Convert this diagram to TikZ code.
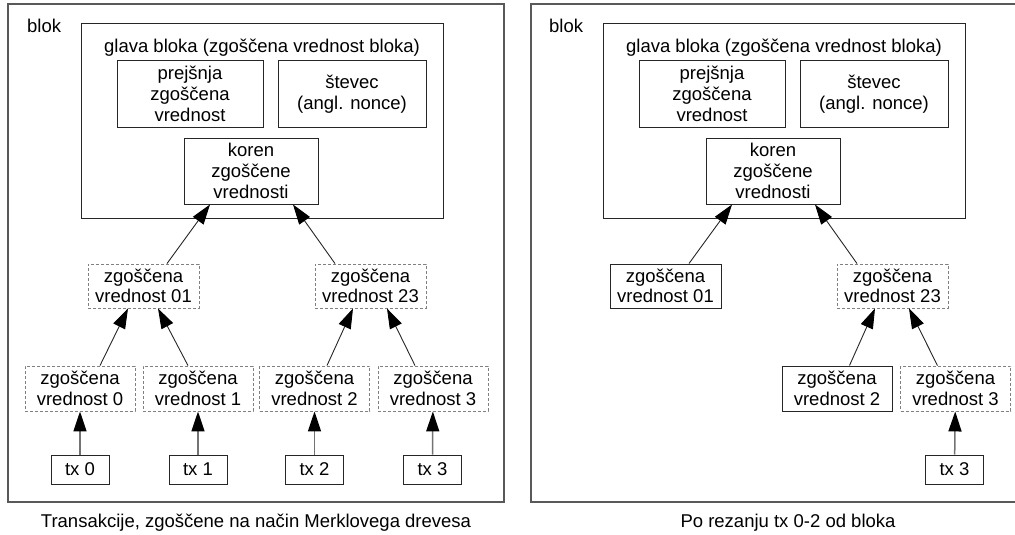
\documentclass[tikz,border=0pt]{standalone}
\usepackage{fontspec}
\setmainfont{Liberation Sans}
\usetikzlibrary{arrows.meta}
\begin{document}
\begin{tikzpicture}[x=1pt,y=-1pt,
  every node/.style={font=\fontsize{18.5}{20.7}\selectfont, inner sep=0pt, align=center},
  outerbox/.style={draw=black!65, line width=1.4pt},
  headbox/.style={draw=black!85, line width=1pt},
  solidbox/.style={draw=black!85, line width=1pt},
  dashbox/.style={draw=black!50, line width=0.9pt, dash pattern=on 3pt off 2pt},
  tip/.style={-{Triangle[length=20pt,width=13pt,color=black]}},
  arr/.style={draw=black!85, line width=0.9pt, tip},
  txarr/.style={draw=black!55, line width=1.5pt, tip}
]
\useasboundingbox (0,0) rectangle (1015,535);
\clip (0,0) rectangle (1015,535);
% ---------------- left panel ----------------
\node[outerbox, minimum width=496pt, minimum height=498pt] (lout) at (256,253) {};
\node[anchor=west] (lblok) at (27,26) {blok};
\node[headbox, minimum width=362pt, minimum height=194pt] (lhead) at (262,121) {};
\node (lglava) at (262,48) {glava bloka (zgoščena vrednost bloka)};
\node[solidbox, minimum width=146pt, minimum height=66pt] (lprej) at (190,94) {prejšnja\\zgoščena\\vrednost};
\node[solidbox, minimum width=148pt, minimum height=66pt] (lstev) at (352,94) {števec\\(angl. nonce)};
\node[solidbox, minimum width=134pt, minimum height=66pt] (lkoren) at (251,171) {koren\\zgoščene\\vrednosti};
\node[dashbox, minimum width=111pt, minimum height=44pt] (lh01) at (143.5,286) {zgoščena\\vrednost 01};
\node[dashbox, minimum width=111pt, minimum height=44pt] (lh23) at (370.5,286) {zgoščena\\vrednost 23};
\node[dashbox, minimum width=110pt, minimum height=45pt] (lh0) at (80,388.5) {zgoščena\\vrednost 0};
\node[dashbox, minimum width=110pt, minimum height=45pt] (lh1) at (198,388.5) {zgoščena\\vrednost 1};
\node[dashbox, minimum width=110pt, minimum height=45pt] (lh2) at (314.5,388.5) {zgoščena\\vrednost 2};
\node[dashbox, minimum width=110pt, minimum height=45pt] (lh3) at (433,388.5) {zgoščena\\vrednost 3};
\node[solidbox, minimum width=58pt, minimum height=29pt] (ltx0) at (80,469.5) {tx 0};
\node[solidbox, minimum width=58pt, minimum height=29pt] (ltx1) at (198,469.5) {tx 1};
\node[solidbox, minimum width=58pt, minimum height=29pt] (ltx2) at (314.5,469.5) {tx 2};
\node[solidbox, minimum width=58pt, minimum height=29pt] (ltx3) at (432.5,469.5) {tx 3};
\node (lcap) at (256,523) {Transakcije, zgoščene na način Merklovega drevesa};
\draw[arr] ([xshift=23.5pt]lh01.north) -- ([xshift=-41pt]lkoren.south);
\draw[arr] ([xshift=-35.5pt]lh23.north) -- ([xshift=42pt]lkoren.south);
\draw[arr] ([xshift=20pt]lh0.north) -- ([xshift=-15.5pt]lh01.south);
\draw[arr] ([xshift=-10pt]lh1.north) -- ([xshift=14.5pt]lh01.south);
\draw[arr] ([xshift=12.5pt]lh2.north) -- ([xshift=-17.5pt]lh23.south);
\draw[arr] ([xshift=-18pt]lh3.north) -- ([xshift=16.5pt]lh23.south);
\draw[txarr] (ltx0) -- (lh0);
\draw[txarr] (ltx1) -- (lh1);
\draw[txarr] (ltx2) -- (lh2);
\draw[txarr] (ltx3) -- (lh3);
% ---------------- right panel ----------------
\node[outerbox, minimum width=514pt, minimum height=498pt] (rout) at (788,253) {};
\node[anchor=west] (rblok) at (549,26) {blok};
\node[headbox, minimum width=362pt, minimum height=194pt] (rhead) at (784,121) {};
\node (rglava) at (784,48) {glava bloka (zgoščena vrednost bloka)};
\node[solidbox, minimum width=146pt, minimum height=66pt] (rprej) at (712,94) {prejšnja\\zgoščena\\vrednost};
\node[solidbox, minimum width=148pt, minimum height=66pt] (rstev) at (874,94) {števec\\(angl. nonce)};
\node[solidbox, minimum width=134pt, minimum height=66pt] (rkoren) at (773,171) {koren\\zgoščene\\vrednosti};
\node[solidbox, minimum width=111pt, minimum height=44pt] (rh01) at (665.5,286) {zgoščena\\vrednost 01};
\node[dashbox, minimum width=111pt, minimum height=44pt] (rh23) at (892.5,286) {zgoščena\\vrednost 23};
\node[solidbox, minimum width=110pt, minimum height=45pt] (rh2) at (837,388.5) {zgoščena\\vrednost 2};
\node[dashbox, minimum width=110pt, minimum height=45pt] (rh3) at (955.5,388.5) {zgoščena\\vrednost 3};
\node[solidbox, minimum width=58pt, minimum height=29pt] (rtx3) at (954.5,469.5) {tx 3};
\node (rcap) at (788,523) {Po rezanju tx 0-2 od bloka};
\draw[arr] ([xshift=23.5pt]rh01.north) -- ([xshift=-41pt]rkoren.south);
\draw[arr] ([xshift=-35.5pt]rh23.north) -- ([xshift=42pt]rkoren.south);
\draw[arr] ([xshift=12.5pt]rh2.north) -- ([xshift=-17.5pt]rh23.south);
\draw[arr] ([xshift=-18pt]rh3.north) -- ([xshift=16.5pt]rh23.south);
\draw[txarr] (rtx3) -- (rh3);
\end{tikzpicture}
\end{document}
